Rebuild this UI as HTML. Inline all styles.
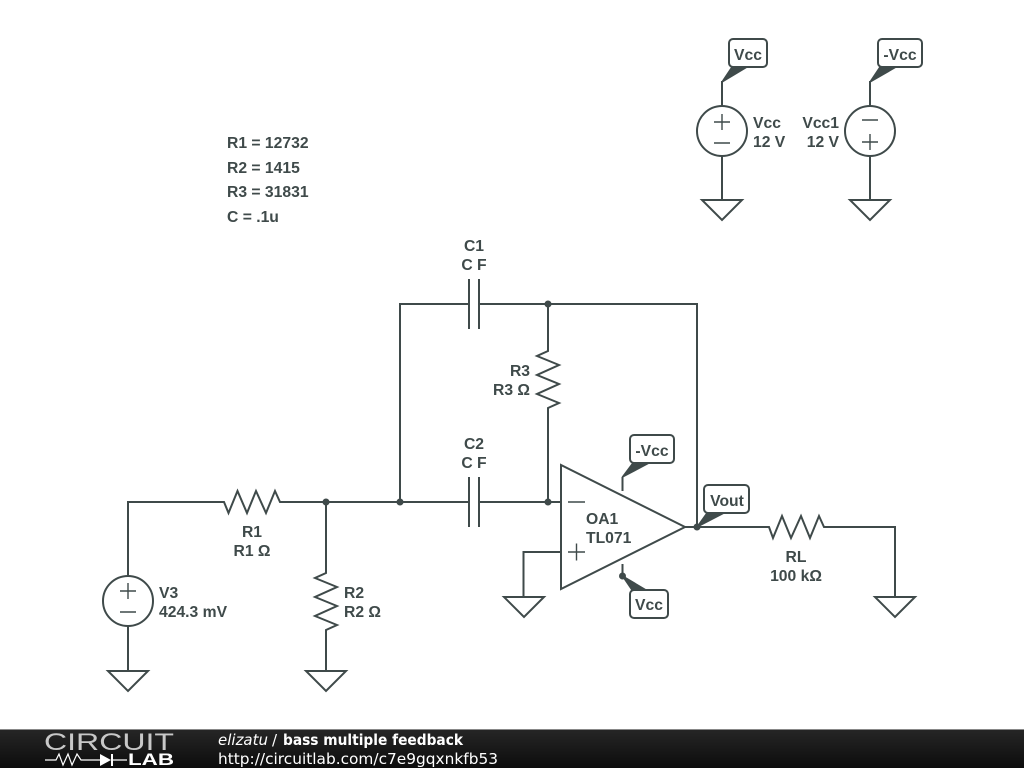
<!DOCTYPE html>
<html><head><meta charset="utf-8"><style>
html,body{margin:0;padding:0;background:#fff}
svg{display:block}
.w{fill:none;stroke:#3f4a4a;stroke-width:2}
.s{fill:none;stroke:#3f4a4a;stroke-width:1.4}
.t{font-family:"Liberation Sans",sans-serif;font-weight:bold;font-size:15.700px;fill:#3f4a4a}
.f{font-family:"DejaVu Sans",sans-serif;font-size:15px;fill:#fff}
</style></head><body>
<svg width="1024" height="768" viewBox="0 0 1024 768" xmlns="http://www.w3.org/2000/svg">
<defs><linearGradient id="g" x1="0" y1="0" x2="0" y2="1"><stop offset="0" stop-color="#262626"/><stop offset="1" stop-color="#0c0c0c"/></linearGradient></defs>
<rect width="1024" height="768" fill="#fff"/>
<!-- wires -->
<path class="w" d="M128 576V502H224L228.500 513L237.500 491L247 513L256 491L266 513L275 491L280 502H468M480 502H561"/>
<path class="w" d="M326 502V573L315 578L337 587L315 597L337 606L315 616L337 625L326 630V671"/>
<path class="w" d="M400 502V304H468M480 304H697V527"/>
<path class="w" d="M548 304V351L537 356L559 365L537 375L559 384L537 394L559 403L548 408V502"/>
<path class="w" d="M469 279V329M479 279V329M469 477V527M479 477V527"/>
<path class="w" d="M561 465V589L685 527Z"/>
<path class="s" d="M568 502H585M568 552H585M576.500 543.500V560.500"/>
<path class="w" d="M561 552H523.500V597"/>
<path class="w" d="M622.500 491V477M622.500 564V576"/>
<path class="w" d="M685 527H769L773 538L782 516L791 538L801 516L810 538L819 516L824 527H895V597"/>
<path class="w" d="M128 626V671"/>
<!-- grounds -->
<path class="w" d="M108 671H148L128 691ZM306 671H346L326 691ZM504 597H544L524 617ZM875 597H915L895 617ZM702 200H742L722 220ZM850 200H890L870 220Z"/>
<!-- sources -->
<circle class="w" cx="128" cy="601" r="25"/>
<path class="s" d="M120 591H136M128 583V599M120 612H136"/>
<circle class="w" cx="722" cy="131" r="25"/>
<path class="s" d="M714 122H730M722 114V130M714 143H730"/>
<circle class="w" cx="870" cy="131" r="25"/>
<path class="s" d="M862 120H878M862 142H878M870 134V150"/>
<path class="w" d="M722 106V81M722 156V200M870 106V81M870 156V200"/>
<!-- junctions -->
<g fill="#3f4a4a"><circle cx="326" cy="502" r="3.500"/><circle cx="400" cy="502" r="3.500"/><circle cx="548" cy="502" r="3.500"/><circle cx="548" cy="304" r="3.500"/><circle cx="697" cy="527" r="3.500"/><circle cx="622.500" cy="576" r="3.500"/></g>
<!-- tags -->
<g fill="#3f4a4a" stroke="#3f4a4a" stroke-width="1.500" stroke-linejoin="round">
<path d="M722 82L732 67H747Z"/><path d="M870 82L880 67H896Z"/>
<path d="M622.500 477L633 463H649Z"/><path d="M697 527L707 513H724Z"/><path d="M622.500 576L632 590H646Z"/>
</g>
<g fill="#fff" stroke="#3f4a4a" stroke-width="2">
<rect x="729" y="39" width="38" height="28" rx="4"/>
<rect x="878" y="39" width="44" height="28" rx="4"/>
<rect x="630" y="435" width="44" height="28" rx="4"/>
<rect x="704" y="485" width="45" height="28" rx="4"/>
<rect x="630" y="590" width="38" height="28" rx="4"/>
</g>
<g class="t">
<g text-anchor="middle">
<text x="748" y="60">Vcc</text><text x="900" y="60">-Vcc</text><text x="652" y="456">-Vcc</text><text x="727" y="506">Vout</text><text x="649" y="610">Vcc</text>
<text x="474" y="251">C1</text><text x="474" y="270">C F</text>
<text x="474" y="449">C2</text><text x="474" y="468">C F</text>
<text x="252" y="537">R1</text><text x="252" y="556">R1 Ω</text>
<text x="796" y="562">RL</text><text x="796" y="581">100 kΩ</text>
</g>
<text x="227" y="148">R1 = 12732</text><text x="227" y="173">R2 = 1415</text><text x="227" y="197">R3 = 31831</text><text x="227" y="222">C = .1u</text>
<text x="753" y="128">Vcc</text><text x="753" y="147">12 V</text>
<text x="839" y="128" text-anchor="end">Vcc1</text><text x="839" y="147" text-anchor="end">12 V</text>
<text x="159" y="598">V3</text><text x="159" y="617">424.3 mV</text>
<text x="344" y="598">R2</text><text x="344" y="617">R2 Ω</text>
<text x="530" y="376" text-anchor="end">R3</text><text x="530" y="395" text-anchor="end">R3 Ω</text>
<text x="586" y="524">OA1</text><text x="586" y="543">TL071</text>
</g>
<!-- footer -->
<rect y="729" width="1024" height="39" fill="url(#g)"/>
<rect y="729" width="1024" height="1" fill="#888"/>
<text x="44" y="750" font-family="Liberation Sans,sans-serif" font-size="24" fill="#c8c8c8" textLength="130" lengthAdjust="spacingAndGlyphs">CIRCUIT</text>
<path d="M45 760H56L59 754L63 765L68 754L72 765L77 754L81 760H100M112 760H127" fill="none" stroke="#fff" stroke-width="1.200"/>
<path d="M100 754L111 760L100 766Z" fill="#fff"/><path d="M112 754V766" stroke="#fff" stroke-width="2"/>
<text x="128" y="765" font-family="Liberation Sans,sans-serif" font-weight="bold" font-size="17" fill="#fff" textLength="46" lengthAdjust="spacingAndGlyphs">LAB</text>
<text class="f" x="218" y="745" font-style="italic">elizatu</text>
<text class="f" x="272" y="745">/</text>
<text class="f" x="283" y="745" font-weight="bold" textLength="180" lengthAdjust="spacingAndGlyphs">bass multiple feedback</text>
<text class="f" x="218" y="764" textLength="280" lengthAdjust="spacingAndGlyphs">http://circuitlab.com/c7e9gqxnkfb53</text>
</svg>
</body></html>
